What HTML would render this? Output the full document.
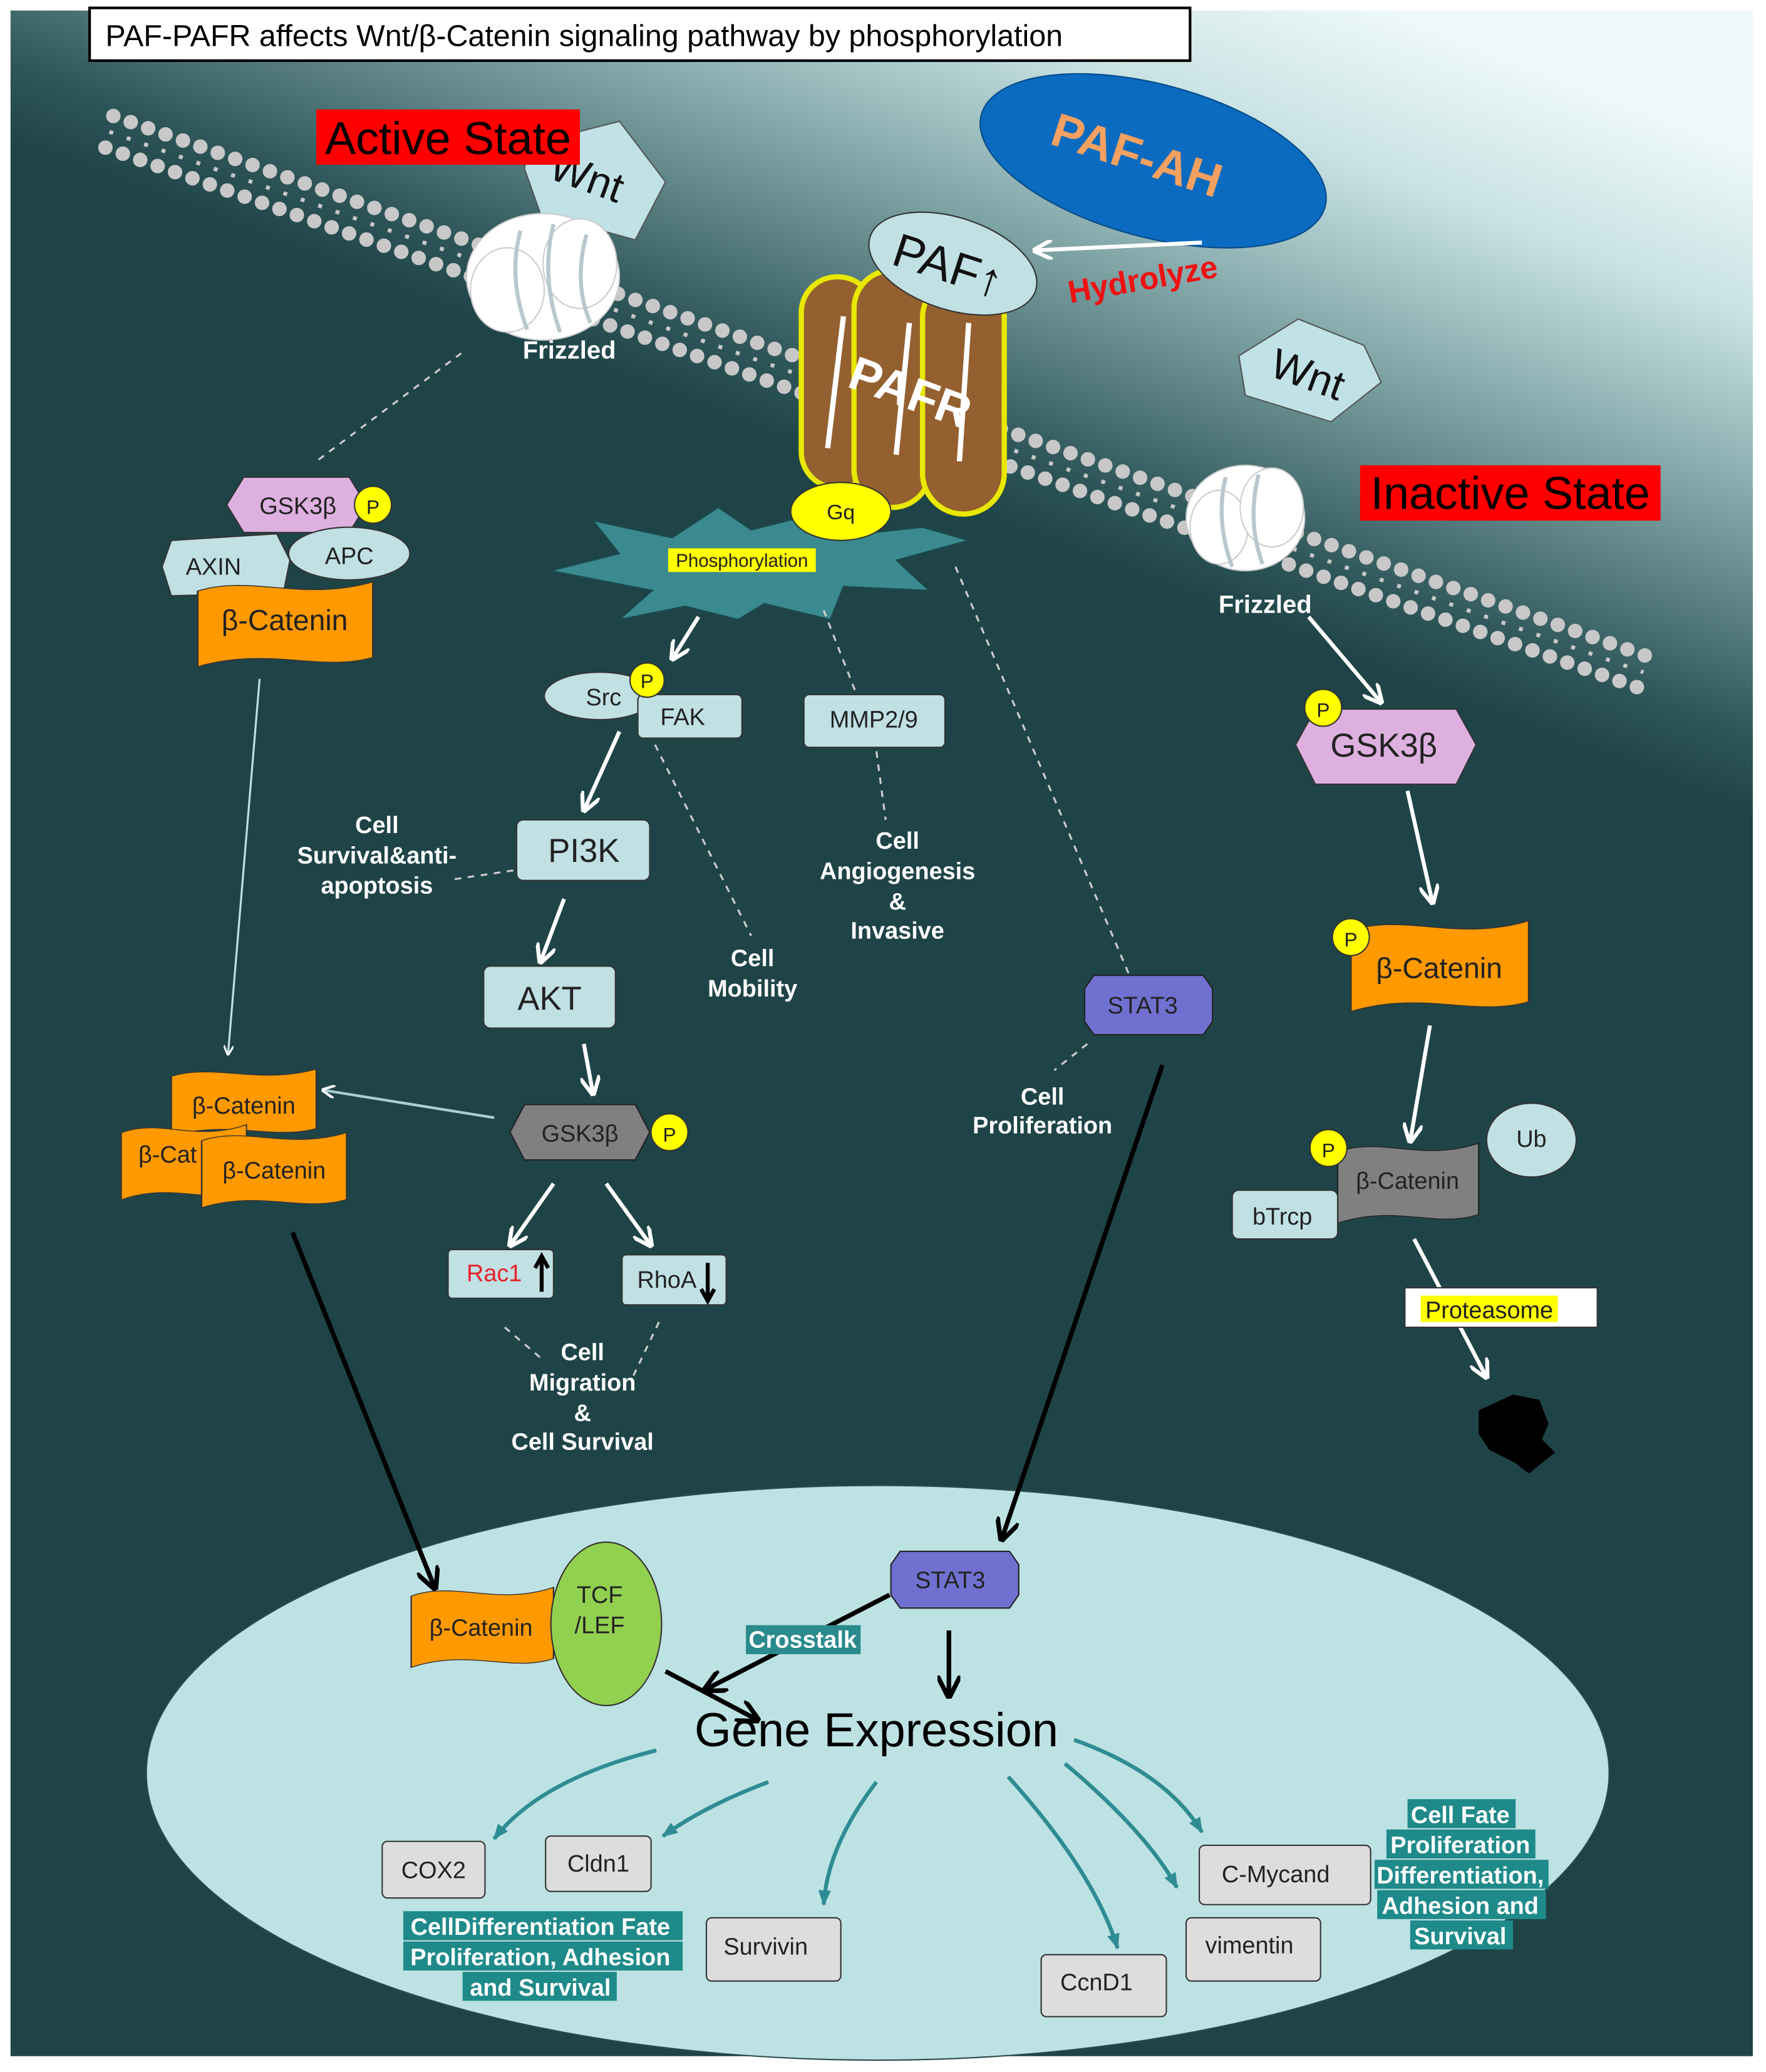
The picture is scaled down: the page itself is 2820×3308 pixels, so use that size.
<!DOCTYPE html>
<html><head><meta charset="utf-8"><style>
html,body{margin:0;padding:0;background:#fff;}
svg{display:block;}
text{font-family:"Liberation Sans",sans-serif;}
.w{fill:#fff;font-weight:bold;font-size:18px;text-anchor:middle;}
.b{fill:#222;font-size:18px;text-anchor:middle;}
</style></head><body>
<svg width="2820" height="3308" viewBox="0 0 1340 1572" preserveAspectRatio="none" xmlns="http://www.w3.org/2000/svg">
<defs>
<linearGradient id="bg" gradientUnits="userSpaceOnUse" x1="760" y1="400" x2="930" y2="-40">
<stop offset="0" stop-color="#1f4447"/><stop offset="0.12" stop-color="#2e5659"/><stop offset="0.45" stop-color="#7ea3a5"/><stop offset="0.75" stop-color="#c8e2e3"/><stop offset="1" stop-color="#eef8f8"/>
</linearGradient>
<marker id="aw" viewBox="0 0 10 10" refX="9" refY="5" markerWidth="5" markerHeight="5" orient="auto"><path d="M0,0 L10,5 L0,10" fill="none" stroke="#fff" stroke-width="2"/></marker>
<marker id="ab" viewBox="0 0 10 10" refX="9" refY="5" markerWidth="5" markerHeight="5" orient="auto"><path d="M0,0 L10,5 L0,10" fill="none" stroke="#000" stroke-width="2"/></marker>
<marker id="at" viewBox="0 0 10 10" refX="9" refY="5" markerWidth="4" markerHeight="4" orient="auto"><path d="M0,1 L10,5 L0,9 z" fill="#2f8c93"/></marker>
<path id="cat" d="M0,12 C30,-6 60,24 100,2 L100,84 C70,100 40,72 0,94 Z"/>
</defs>
<rect x="0" y="0" width="1340" height="1572" fill="#fff"/>
<rect x="8" y="8" width="1322" height="1552" fill="url(#bg)"/>

<!-- membrane -->
<g stroke="#c8c8c8" fill="none">
<line x1="86" y1="88" x2="1250" y2="498" stroke-width="11" stroke-linecap="round" stroke-dasharray="0 14"/>
<line x1="80" y1="112" x2="1244" y2="522" stroke-width="11" stroke-linecap="round" stroke-dasharray="0 14"/>
<line x1="83" y1="100" x2="1247" y2="510" stroke-width="3" stroke-dasharray="3 11"/>
</g>

<!-- nucleus -->
<ellipse cx="666" cy="1345" rx="555" ry="218" fill="#bde2e4" stroke="#2a4a4c" stroke-width="1"/>

<!-- title -->
<rect x="68" y="6" width="835" height="40" fill="#fff" stroke="#000" stroke-width="2"/>
<text x="80" y="35" font-size="23" fill="#000">PAF-PAFR affects Wnt/β-Catenin signaling pathway by phosphorylation</text>

<!-- active state -->
<polygon points="400,110 470,92 505,138 482,182 410,162 398,128" fill="#c0e2e6" stroke="#555"/>
<text x="445" y="145" style="font-size:32px" fill="#111" text-anchor="middle" transform="rotate(20 445 135)">Wnt</text>
<rect x="240" y="83" width="200" height="42" fill="#ff0000"/>
<text x="340" y="117" style="font-size:35px" text-anchor="middle" fill="#000">Active State</text>
<g fill="#fff" stroke="#ccc">
<ellipse cx="412" cy="210" rx="58" ry="48"/>
<ellipse cx="385" cy="220" rx="28" ry="32"/><ellipse cx="440" cy="200" rx="28" ry="34"/>
</g>
<g stroke="#b8c8cc" stroke-width="3" fill="none"><path d="M395,175 Q385,210 400,250"/><path d="M420,170 Q410,210 425,252"/><path d="M445,178 Q435,215 448,245"/></g>
<text x="432" y="272" class="w" style="font-size:19px">Frizzled</text>

<!-- PAF-AH -->
<ellipse cx="875" cy="122" rx="135" ry="58" transform="rotate(15 875 122)" fill="#0a6bc0" stroke="#064a88"/>
<text x="862" y="130" style="font-size:36px" fill="#f4a060" text-anchor="middle" font-weight="bold" transform="rotate(18 862 120)">PAF-AH</text>

<!-- PAFR -->
<g stroke="#e8e800" stroke-width="4" fill="#946030">
<rect x="608" y="210" width="55" height="160" rx="27"/>
<rect x="648" y="205" width="58" height="180" rx="29"/>
<rect x="700" y="210" width="62" height="180" rx="31"/>
</g>
<g stroke="#fff" stroke-width="4" fill="none"><path d="M640,240 L628,340"/><path d="M690,245 L680,345"/><path d="M735,245 L728,350"/></g>
<text x="690" y="310" style="font-size:36px" fill="#fff" text-anchor="middle" font-weight="bold" transform="rotate(20 690 300)">PAFR</text>
<ellipse cx="723" cy="200" rx="66" ry="35" transform="rotate(18 723 200)" fill="#c0e0e4" stroke="#333"/>
<text x="720" y="214" style="font-size:36px" fill="#111" text-anchor="middle" transform="rotate(18 720 200)">PAF↑</text>
<line x1="912" y1="184" x2="785" y2="190" stroke="#fff" stroke-width="3" marker-end="url(#aw)"/>
<text x="812" y="230" style="font-size:24px" fill="#ee1111" font-weight="bold" transform="rotate(-10 812 230)">Hydrolyze</text>

<!-- Phosphorylation star -->
<polygon points="418,433 470,420 450,395 510,408 545,385 570,402 610,392 625,408 700,400 735,410 680,425 705,448 640,445 630,470 580,458 560,470 520,460 470,470 495,448" fill="#3a8a90" stroke="#1b4a4c"/>
<ellipse cx="638" cy="388" rx="38" ry="22" fill="#ffff00" stroke="#333"/>
<text x="638" y="394" class="b" style="font-size:16px">Gq</text>
<rect x="507" y="416" width="112" height="18" fill="#ffff00"/>
<text x="563" y="430" style="font-size:14px" fill="#222" text-anchor="middle">Phosphorylation</text>

<!-- Wnt right -->
<polygon points="940,270 985,242 1035,262 1048,290 1010,320 945,300" fill="#c0e2e6" stroke="#555"/>
<text x="992" y="295" style="font-size:32px" fill="#111" text-anchor="middle" transform="rotate(20 992 285)">Wnt</text>
<g fill="#fff" stroke="#ccc"><ellipse cx="945" cy="393" rx="45" ry="40"/><ellipse cx="925" cy="400" rx="22" ry="28"/><ellipse cx="965" cy="385" rx="24" ry="30"/></g>
<g stroke="#b8c8cc" stroke-width="3" fill="none"><path d="M930,362 Q922,395 935,430"/><path d="M955,360 Q946,395 958,428"/></g>
<text x="960" y="465" class="w" style="font-size:19px">Frizzled</text>
<rect x="1032" y="353" width="228" height="42" fill="#ff0000"/>
<text x="1146" y="386" style="font-size:35px" text-anchor="middle" fill="#000">Inactive State</text>

<!-- left column -->
<line x1="350" y1="268" x2="240" y2="350" stroke="#ccc" stroke-width="1.5" stroke-dasharray="5 5"/>
<polygon points="185,362 265,362 278,383 265,404 185,404 172,383" fill="#ddb0e0" stroke="#333"/>
<text x="226" y="390" class="b">GSK3β</text>
<circle cx="283" cy="383" r="14" fill="#ffff00" stroke="#333"/><text x="283" y="390" class="b" style="font-size:15px">P</text>
<path d="M130,410 L210,405 L220,425 L215,450 L130,452 L123,430 Z" fill="#c0e0e4" stroke="#333"/>
<text x="162" y="436" class="b">AXIN</text>
<ellipse cx="265" cy="420" rx="46" ry="20" fill="#c0e0e4" stroke="#333"/>
<text x="265" y="428" class="b">APC</text>
<use href="#cat" transform="translate(150,440) scale(1.33,0.7)" fill="#ff9900" stroke="#333"/>
<text x="216" y="478" style="font-size:22px" fill="#222" text-anchor="middle">β-Catenin</text>
<line x1="197" y1="515" x2="173" y2="800" stroke="#c0e0e4" stroke-width="1.5" marker-end="url(#aw)"/>
<use href="#cat" transform="translate(130,810) scale(1.1,0.55)" fill="#ff9900" stroke="#333"/>
<text x="185" y="845" style="font-size:18px" fill="#222" text-anchor="middle">β-Catenin</text>
<use href="#cat" transform="translate(92,852) scale(0.95,0.62)" fill="#ff9900" stroke="#333"/>
<text x="105" y="882" style="font-size:18px" fill="#222">β-Cat</text>
<use href="#cat" transform="translate(153,858) scale(1.1,0.62)" fill="#ff9900" stroke="#333"/>
<text x="208" y="894" style="font-size:18px" fill="#222" text-anchor="middle">β-Catenin</text>
<line x1="375" y1="848" x2="245" y2="827" stroke="#a8d0d4" stroke-width="2" marker-end="url(#aw)"/>
<line x1="222" y1="935" x2="330" y2="1205" stroke="#000" stroke-width="3.5" marker-end="url(#ab)"/>

<!-- middle column -->
<line x1="530" y1="468" x2="510" y2="500" stroke="#fff" stroke-width="3" marker-end="url(#aw)"/>
<ellipse cx="455" cy="528" rx="42" ry="18" fill="#c0e0e4" stroke="#333"/>
<text x="458" y="535" class="b">Src</text>
<rect x="484" y="527" width="79" height="33" rx="4" fill="#c0e0e4" stroke="#333"/>
<text x="518" y="550" class="b">FAK</text>
<circle cx="491" cy="516" r="13" fill="#ffff00" stroke="#333"/><text x="491" y="522" class="b" style="font-size:15px">P</text>
<rect x="610" y="527" width="107" height="40" rx="4" fill="#c0e0e4" stroke="#333"/>
<text x="663" y="552" class="b">MMP2/9</text>
<g stroke="#ccc" stroke-width="1.5" stroke-dasharray="5 5" fill="none">
<line x1="625" y1="463" x2="650" y2="527"/>
<line x1="665" y1="570" x2="672" y2="622"/>
<line x1="497" y1="565" x2="570" y2="710"/>
<line x1="725" y1="430" x2="857" y2="740"/>
<line x1="345" y1="667" x2="392" y2="660"/>
<line x1="825" y1="792" x2="800" y2="812"/>
<line x1="383" y1="1007" x2="410" y2="1030"/>
<line x1="500" y1="1003" x2="480" y2="1045"/>
</g>
<text class="w"><tspan x="681" y="644">Cell</tspan><tspan x="681" y="667">Angiogenesis</tspan><tspan x="681" y="690">&amp;</tspan><tspan x="681" y="712">Invasive</tspan></text>
<text class="w"><tspan x="571" y="733">Cell</tspan><tspan x="571" y="756">Mobility</tspan></text>
<line x1="470" y1="555" x2="443" y2="615" stroke="#fff" stroke-width="3" marker-end="url(#aw)"/>
<rect x="392" y="622" width="101" height="46" rx="5" fill="#c0e0e4" stroke="#333"/>
<text x="443" y="654" class="b" style="font-size:25px">PI3K</text>
<text class="w"><tspan x="286" y="632">Cell</tspan><tspan x="286" y="655">Survival&amp;anti-</tspan><tspan x="286" y="678">apoptosis</tspan></text>
<line x1="428" y1="682" x2="410" y2="730" stroke="#fff" stroke-width="3" marker-end="url(#aw)"/>
<rect x="367" y="733" width="100" height="47" rx="5" fill="#c0e0e4" stroke="#333"/>
<text x="417" y="766" class="b" style="font-size:25px">AKT</text>
<line x1="443" y1="792" x2="450" y2="830" stroke="#fff" stroke-width="3" marker-end="url(#aw)"/>
<polygon points="398,838 482,838 493,859 482,880 398,880 387,859" fill="#808080" stroke="#222"/>
<text x="440" y="866" class="b">GSK3β</text>
<circle cx="508" cy="859" r="14" fill="#ffff00" stroke="#333"/><text x="508" y="866" class="b" style="font-size:15px">P</text>
<line x1="420" y1="898" x2="387" y2="945" stroke="#fff" stroke-width="3" marker-end="url(#aw)"/>
<line x1="460" y1="898" x2="494" y2="945" stroke="#fff" stroke-width="3" marker-end="url(#aw)"/>
<rect x="340" y="948" width="80" height="37" rx="3" fill="#c0e0e4" stroke="#333"/>
<text x="375" y="972" style="font-size:18px" fill="#e8202a" text-anchor="middle">Rac1</text>
<path d="M411,980 L411,956 M406,962 L411,953 L416,962" stroke="#000" stroke-width="3" fill="none"/>
<rect x="472" y="952" width="79" height="38" rx="3" fill="#c0e0e4" stroke="#333"/>
<text x="506" y="977" class="b">RhoA</text>
<path d="M537,958 L537,984 M532,978 L537,987 L542,978" stroke="#000" stroke-width="3" fill="none"/>
<text class="w"><tspan x="442" y="1032">Cell</tspan><tspan x="442" y="1055">Migration</tspan><tspan x="442" y="1078">&amp;</tspan><tspan x="442" y="1100">Cell Survival</tspan></text>

<polygon points="830,740 913,740 920,750 920,775 913,785 830,785 823,775 823,750" fill="#7070d0" stroke="#222"/>
<text x="867" y="769" class="b">STAT3</text>
<text class="w"><tspan x="791" y="838">Cell</tspan><tspan x="791" y="860">Proliferation</tspan></text>
<line x1="882" y1="808" x2="760" y2="1168" stroke="#000" stroke-width="3.5" marker-end="url(#ab)"/>

<!-- right column -->
<line x1="993" y1="468" x2="1048" y2="533" stroke="#fff" stroke-width="3" marker-end="url(#aw)"/>
<polygon points="998,538 1105,538 1120,565 1105,595 998,595 983,565" fill="#ddb0e0" stroke="#333"/>
<text x="1050" y="574" class="b" style="font-size:25px">GSK3β</text>
<circle cx="1004" cy="537" r="14" fill="#ffff00" stroke="#333"/><text x="1004" y="544" class="b" style="font-size:15px">P</text>
<line x1="1068" y1="600" x2="1087" y2="685" stroke="#fff" stroke-width="3" marker-end="url(#aw)"/>
<use href="#cat" transform="translate(1025,697) scale(1.35,0.75)" fill="#ff9900" stroke="#333"/>
<text x="1092" y="742" style="font-size:22px" fill="#222" text-anchor="middle">β-Catenin</text>
<circle cx="1025" cy="711" r="14" fill="#ffff00" stroke="#333"/><text x="1025" y="718" class="b" style="font-size:15px">P</text>
<line x1="1085" y1="778" x2="1070" y2="866" stroke="#fff" stroke-width="3" marker-end="url(#aw)"/>
<ellipse cx="1162" cy="865" rx="34" ry="28" fill="#c0e0e4" stroke="#333"/>
<text x="1162" y="870" class="b">Ub</text>
<use href="#cat" transform="translate(1015,866) scale(1.07,0.66)" fill="#808080" stroke="#222"/>
<text x="1068" y="902" class="b">β-Catenin</text>
<rect x="935" y="903" width="80" height="37" rx="5" fill="#c0e0e4" stroke="#333"/>
<text x="973" y="929" class="b">bTrcp</text>
<circle cx="1008" cy="871" r="14" fill="#ffff00" stroke="#333"/><text x="1008" y="878" class="b" style="font-size:15px">P</text>
<line x1="1073" y1="940" x2="1128" y2="1045" stroke="#fff" stroke-width="3" marker-end="url(#aw)"/>
<rect x="1066" y="977" width="146" height="30" fill="#fff" stroke="#333"/>
<rect x="1078" y="983" width="104" height="20" fill="#ffff00"/>
<text x="1130" y="1000" class="b">Proteasome</text>
<polygon points="1122,1070 1148,1058 1168,1062 1175,1080 1170,1092 1180,1102 1160,1118 1150,1110 1130,1100 1122,1088" fill="#000"/>

<!-- nucleus contents -->
<use href="#cat" transform="translate(312,1203) scale(1.08,0.66)" fill="#ff9900" stroke="#333"/>
<text x="365" y="1241" class="b">β-Catenin</text>
<ellipse cx="460" cy="1232" rx="42" ry="62" fill="#92d050" stroke="#333"/>
<text x="455" y="1216" class="b">TCF</text><text x="455" y="1239" class="b">/LEF</text>
<polygon points="683,1177 766,1177 773,1187 773,1210 766,1220 683,1220 676,1210 676,1187" fill="#7070d0" stroke="#222"/>
<text x="721" y="1205" class="b">STAT3</text>
<line x1="675" y1="1210" x2="535" y2="1282" stroke="#000" stroke-width="3.5" marker-end="url(#ab)"/>
<rect x="566" y="1233" width="87" height="22" fill="#2a8a8c"/>
<text x="609" y="1250" class="w">Crosstalk</text>
<line x1="720" y1="1237" x2="720" y2="1287" stroke="#000" stroke-width="3.5" marker-end="url(#ab)"/>
<line x1="505" y1="1268" x2="575" y2="1305" stroke="#000" stroke-width="3.5" marker-end="url(#ab)"/>
<text x="665" y="1325" style="font-size:36px" fill="#000" text-anchor="middle">Gene Expression</text>

<g stroke="#2f8c93" stroke-width="3" fill="none" marker-end="url(#at)">
<path d="M498,1328 Q410,1350 375,1395"/>
<path d="M583,1352 Q535,1370 503,1393"/>
<path d="M665,1352 Q628,1400 625,1445"/>
<path d="M765,1348 Q830,1420 848,1478"/>
<path d="M808,1338 Q870,1390 893,1432"/>
<path d="M815,1320 Q885,1345 912,1390"/>
</g>
<g fill="#dddddd" stroke="#333">
<rect x="290" y="1397" width="78" height="43" rx="4"/>
<rect x="414" y="1393" width="80" height="42" rx="4"/>
<rect x="536" y="1455" width="102" height="48" rx="4"/>
<rect x="790" y="1483" width="95" height="47" rx="4"/>
<rect x="900" y="1455" width="102" height="48" rx="4"/>
<rect x="910" y="1400" width="130" height="45" rx="4"/>
</g>
<text x="329" y="1425" class="b">COX2</text>
<text x="454" y="1420" class="b">Cldn1</text>
<text x="581" y="1483" class="b">Survivin</text>
<text x="832" y="1510" class="b">CcnD1</text>
<text x="948" y="1482" class="b">vimentin</text>
<text x="968" y="1428" class="b">C-Mycand</text>

<g fill="#1f8a8a">
<rect x="306" y="1450" width="212" height="22"/>
<rect x="306" y="1473" width="212" height="22"/>
<rect x="351" y="1496" width="117" height="22"/>
<rect x="1068" y="1365" width="82" height="22"/>
<rect x="1052" y="1388" width="113" height="22"/>
<rect x="1043" y="1411" width="132" height="22"/>
<rect x="1045" y="1434" width="128" height="22"/>
<rect x="1070" y="1457" width="78" height="22"/>
</g>
<text class="w"><tspan x="410" y="1468">CellDifferentiation Fate</tspan><tspan x="410" y="1491">Proliferation, Adhesion</tspan><tspan x="410" y="1514">and Survival</tspan></text>
<text class="w"><tspan x="1108" y="1383">Cell Fate</tspan><tspan x="1108" y="1406">Proliferation</tspan><tspan x="1108" y="1429">Differentiation,</tspan><tspan x="1108" y="1452">Adhesion and</tspan><tspan x="1108" y="1475">Survival</tspan></text>
</svg>
</body></html>
